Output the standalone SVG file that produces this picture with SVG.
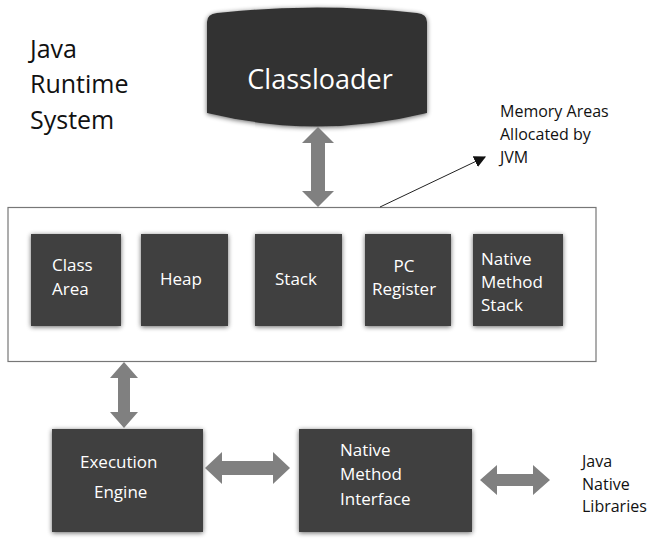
<svg xmlns="http://www.w3.org/2000/svg" width="649" height="560" viewBox="0 0 649 560">
<defs>
<filter id="sh" x="-20%" y="-20%" width="140%" height="140%">
<feGaussianBlur in="SourceAlpha" stdDeviation="2.5"/>
<feOffset dx="0" dy="1" result="b"/>
<feComponentTransfer><feFuncA type="linear" slope="0.6"/></feComponentTransfer>
<feMerge><feMergeNode/><feMergeNode in="SourceGraphic"/></feMerge>
</filter>
<marker id="tri" viewBox="0 0 10 10" refX="9" refY="5" markerWidth="12" markerHeight="12" markerUnits="userSpaceOnUse" orient="auto">
<path d="M0,0 L10,5 L0,10 z" fill="#111"/>
</marker>
</defs>
<style>
.box{fill:#404040;filter:url(#sh)}
.wt{fill:#ffffff;font-family:"Open Sans","Noto Sans",sans-serif;font-size:17px}
.bt{fill:#111111;font-family:"Open Sans","Noto Sans",sans-serif}
.arr{fill:#808080}
</style>
<rect width="649" height="560" fill="#ffffff"/>
<text class="bt" x="30" y="58" font-size="25">Java</text>
<text class="bt" x="30" y="93" font-size="25">Runtime</text>
<text class="bt" x="30" y="129" font-size="25">System</text>
<g id="classloader">
<path d="M207,22 Q207,14 217,13 Q317,2 417,13 Q427,14 427,22 L427,113 Q317,140 207,113 Z" fill="#333333" filter="url(#sh)"/>
<text x="320" y="89" text-anchor="middle" fill="#ffffff" font-family="'Open Sans','Noto Sans',sans-serif" font-size="27">Classloader</text>
</g>
<g id="memory-note">
<text class="bt" x="500" y="117" font-size="16">Memory Areas</text>
<text class="bt" x="500" y="140" font-size="16">Allocated by</text>
<text class="bt" x="500" y="163" font-size="16">JVM</text>
</g>
<g id="memory-areas">
<rect x="8" y="207.5" width="588" height="154" fill="none" stroke="#777777" stroke-width="1.2"/>
</g>
<g id="class-area"><rect class="box" x="31" y="234" width="90" height="92"/>
<text class="wt" x="52" y="271">Class</text><text class="wt" x="52" y="295">Area</text></g>
<g id="heap"><rect class="box" x="141" y="234" width="87" height="92"/>
<text class="wt" x="181" y="285" text-anchor="middle">Heap</text></g>
<g id="stack"><rect class="box" x="255" y="234" width="87" height="92"/>
<text class="wt" x="296" y="285" text-anchor="middle">Stack</text></g>
<g id="pc-register"><rect class="box" x="365" y="234" width="86" height="92"/>
<text class="wt" x="404" y="272" text-anchor="middle">PC</text><text class="wt" x="404" y="295" text-anchor="middle">Register</text></g>
<g id="native-method-stack"><rect class="box" x="473" y="234" width="90" height="92"/>
<text class="wt" x="481" y="265">Native</text><text class="wt" x="481" y="288">Method</text><text class="wt" x="481" y="311">Stack</text></g>
<g id="execution-engine"><rect class="box" x="52" y="429" width="151" height="103"/>
<text class="wt" x="80" y="468">Execution</text><text class="wt" x="94" y="498">Engine</text></g>
<g id="native-method-interface"><rect class="box" x="299" y="429" width="173" height="103"/>
<text class="wt" x="340" y="456">Native</text><text class="wt" x="340" y="480">Method</text><text class="wt" x="340" y="505">Interface</text></g>
<g id="java-native-libraries">
<text class="bt" x="582" y="467" font-size="16">Java</text>
<text class="bt" x="582" y="490" font-size="16">Native</text>
<text class="bt" x="582" y="512" font-size="16">Libraries</text>
</g>
<g id="connectors">
<polygon class="arr" points="318,127 334,143 325,143 325,191 334,191 318,207 302,191 311,191 311,143 302,143"/>
<polygon class="arr" points="124,362 138,378 130,378 130,412 138,412 124,428 110,412 118,412 118,378 110,378"/>
<polygon class="arr" points="205,468 222,452 222,461 273,461 273,452 290,468 273,484 273,475 222,475 222,484"/>
<polygon class="arr" points="480,480 497,465 497,474 533,474 533,465 550,480 533,495 533,486 497,486 497,495"/>
<line x1="380" y1="207" x2="485" y2="157" stroke="#222222" stroke-width="1" marker-end="url(#tri)"/>
</g>
</svg>
